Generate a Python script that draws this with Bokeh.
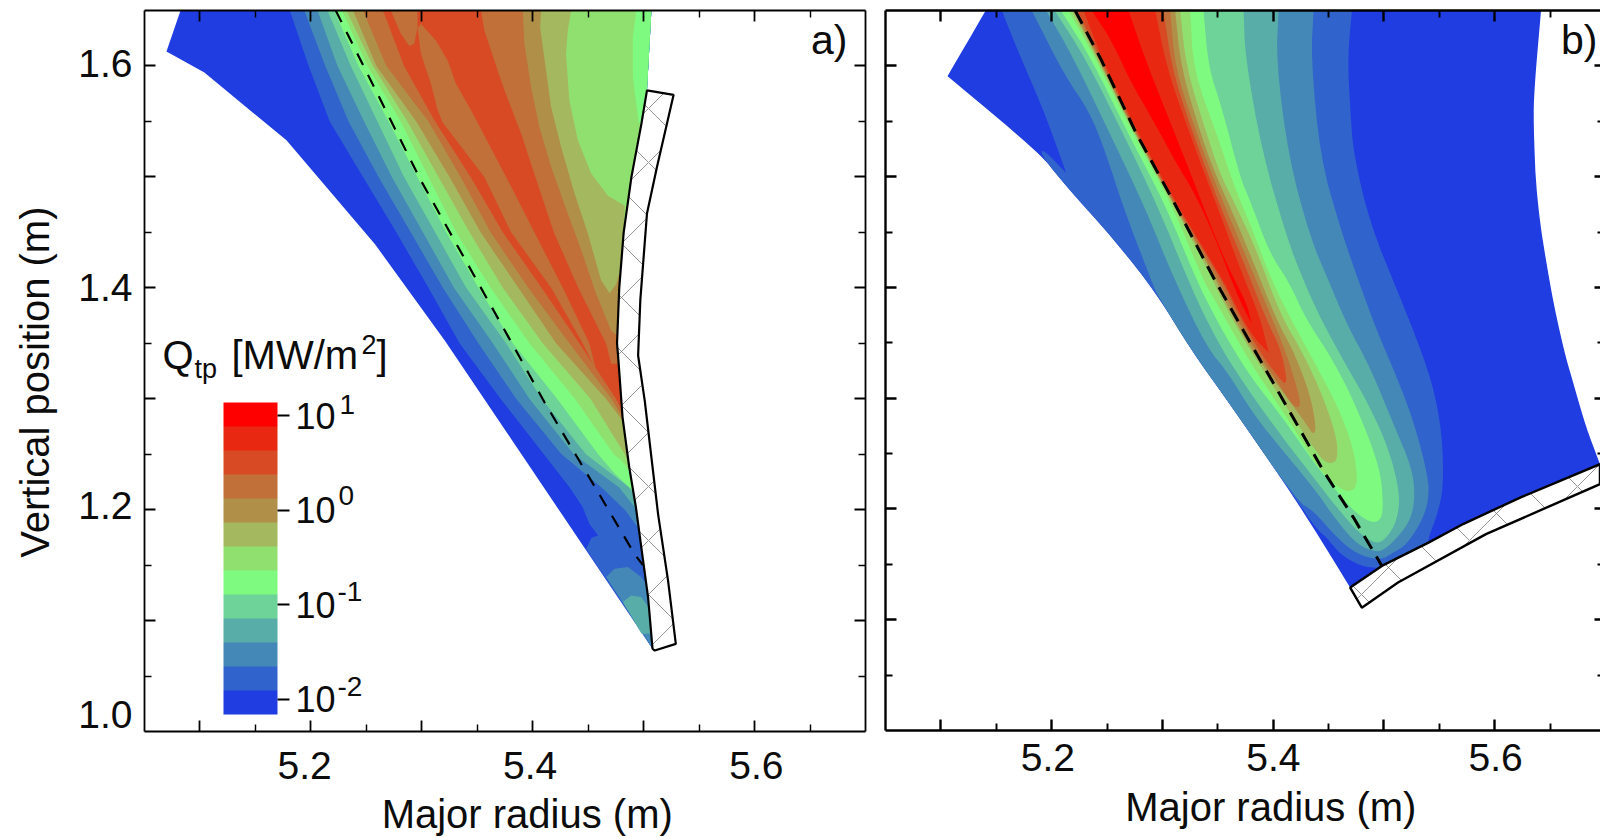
from bokeh.plotting import figure
from bokeh.layouts import row
from bokeh.embed import file_html
from bokeh.resources import INLINE
from bokeh.models import (Range1d, LinearAxis, FixedTicker, CustomJSTickFormatter,
                          Label, ColorBar, LinearColorMapper)

FONT = "Liberation Sans"
NBSP = "\u00a0"
LEVEL_COLORS = ["#1f3de0", "#3163cc", "#4488b8", "#58ada8", "#6dd398", "#7ffa80", "#90e070",
                "#a4b860", "#b09048", "#c07038", "#d84a24", "#e82810", "#ff0000"]
COLORBAR_TICKS = [-2, -1, 0, 1]
COLORBAR_EXPONENTS = ["-2", "-1", "0", "1"]
X_MAJOR = [5.1, 5.2, 5.3, 5.4, 5.5, 5.6]
X_MINOR = [5.15, 5.25, 5.35, 5.45, 5.55, 5.65]
Y_MAJOR = [1.1, 1.2, 1.3, 1.4, 1.5, 1.6]
Y_MINOR = [1.05, 1.15, 1.25, 1.35, 1.45, 1.55]

# ---------- panel a) : contour tables read at fixed heights ----------
A_Z = [1.65, 1.60, 1.55, 1.50, 1.45, 1.40, 1.35, 1.30, 1.25]
A_L1 = [5.181, 5.198, 5.217, 5.247, 5.277, 5.306, 5.334, 5.371, 5.410]
A_L2 = [5.194, 5.213, 5.234, 5.261, 5.290, 5.319, 5.351, 5.385, 5.426]
A_L3 = [5.206, 5.224, 5.248, 5.273, 5.301, 5.329, 5.364, 5.397, 5.437]
A_L4 = [5.215, 5.236, 5.260, 5.284, 5.312, 5.340, 5.376, 5.408, 5.448]
A_L5 = [5.221, 5.243, 5.270, 5.296, 5.322, 5.351, 5.382, 5.422, 5.459]
A_L6 = [5.228, 5.251, 5.281, 5.306, 5.331, 5.362, 5.397, 5.438, 5.473]
A_L7 = [5.232, 5.256, 5.287, 5.315, 5.343, 5.373, 5.409, 5.452, 5.483]
A_L8 = [5.238, 5.259, 5.295, 5.325, 5.353, 5.387, 5.421, 5.466]
A_L9 = [5.247, 5.268, 5.306, 5.335, 5.362, 5.396, 5.433, 5.471]
A_L10 = [5.265, 5.284, 5.312, 5.344, 5.373, 5.408, 5.442, 5.475]

A_EDGE = [(5.0825, 1.65), (5.0698, 1.613), (5.104, 1.594), (5.178, 1.533), (5.258, 1.439),
          (5.321, 1.352), (5.508, 1.0746)]
A_WALL_IN = [(5.507, 1.65), (5.503, 1.578), (5.498, 1.548), (5.489, 1.50), (5.482, 1.45),
             (5.478, 1.40), (5.476, 1.35), (5.477, 1.338), (5.481, 1.283), (5.487, 1.2384),
             (5.493, 1.2023), (5.4995, 1.154), (5.504, 1.121), (5.508, 1.0746)]
A_WALL_OUT = [(5.503, 1.578), (5.527, 1.574), (5.512, 1.509), (5.503, 1.467), (5.497, 1.389),
              (5.495, 1.339), (5.501, 1.298), (5.513, 1.196), (5.522, 1.136), (5.529, 1.079),
              (5.510, 1.073)]
A_L1_END = [(5.433, 1.2204), (5.445, 1.2023), (5.451, 1.1873), (5.459, 1.1768), (5.453, 1.1747),
            (5.448, 1.1647), (5.508, 1.0746)]
A_L2_END = [(5.462, 1.22), (5.483, 1.2), (5.497, 1.1813)]
A_L3_END = [(5.478, 1.22), (5.493, 1.2008)]
A_L4_END = [(5.487, 1.22), (5.491, 1.2143)]
A_L5_END = [(5.474, 1.2324), (5.490, 1.2174)]
A_L6_END = [(5.480, 1.2444), (5.489, 1.2324)]
A_L7_END = [(5.487, 1.2399)]
A_L8_END = [(5.482, 1.279)]
A_L9_END = [(5.481, 1.283)]
A_L10_END = [(5.4798, 1.291)]
A_R6 = [(5.4955, 1.5493), (5.4903, 1.59), (5.4903, 1.626), (5.4933, 1.65)]
A_R7 = [(5.483, 1.474), (5.4678, 1.483), (5.4527, 1.503), (5.4407, 1.533), (5.433, 1.569),
        (5.430, 1.611), (5.4316, 1.632), (5.4347, 1.65)]
A_R8 = [(5.4777, 1.4125), (5.4753, 1.4035), (5.4693, 1.395), (5.4617, 1.4065), (5.4497, 1.449),
        (5.4377, 1.485), (5.4256, 1.527), (5.4166, 1.563), (5.412, 1.596), (5.4067, 1.635),
        (5.4076, 1.65)]
A_R9 = [(5.4762, 1.357), (5.4708, 1.361), (5.4572, 1.3945), (5.4437, 1.434), (5.4316, 1.467),
        (5.4166, 1.509), (5.406, 1.545), (5.3985, 1.581), (5.3925, 1.62), (5.391, 1.65)]
A_R10 = [(5.4767, 1.3316), (5.4707, 1.3316), (5.4692, 1.3376), (5.466, 1.35), (5.441, 1.40),
         (5.419, 1.45), (5.4015, 1.5027), (5.3895, 1.539), (5.3745, 1.578), (5.3684, 1.596),
         (5.3564, 1.632), (5.3534, 1.65)]
A_WEDGE = [(5.2992, 1.638), (5.3127, 1.623), (5.3233, 1.605), (5.3308, 1.584), (5.3444, 1.56),
           (5.376, 1.50), (5.4015, 1.45), (5.4271, 1.40), (5.451, 1.35), (5.4572, 1.3256),
           (5.445, 1.35), (5.4166, 1.40), (5.3805, 1.45), (5.3564, 1.50), (5.3188, 1.549),
           (5.3143, 1.56), (5.3082, 1.584), (5.2992, 1.611), (5.2962, 1.6335)]
A_LOBE = [(5.272, 1.65), (5.2811, 1.629), (5.2887, 1.618), (5.2932, 1.62), (5.2962, 1.635),
          (5.2962, 1.65)]
A_TIP2 = [(5.4662, 1.1392), (5.4737, 1.1467), (5.4858, 1.1482), (5.4978, 1.1392), (5.5023, 1.1332),
          (5.504, 1.121), (5.508, 1.0746)]
A_TIP3 = [(5.4813, 1.1167), (5.4888, 1.1227), (5.4978, 1.1212), (5.5053, 1.1106), (5.5077, 1.0881),
          (5.4981, 1.0881)]
A_DASH_R = [5.2224, 5.2992, 5.3835, 5.4105, 5.4587, 5.4918, 5.4993]
A_DASH_Z = [1.65, 1.4967, 1.346, 1.297, 1.216, 1.16, 1.15]

# ---------- panel b) : contours from the top edge, round the foot, back to the top edge ----------
# a point listed twice is a sharp corner
B_BASE = [(5.1405, 1.65), (5.106, 1.5907), (5.106, 1.5907), (5.190, 1.5205), (5.2077, 1.4975), (5.2589, 1.4403),
          (5.295, 1.394), (5.3266, 1.3425), (5.361, 1.2945), (5.4214, 1.2072), (5.4695, 1.129), (5.4695, 1.129),
          (5.4981, 1.1486), (5.5402, 1.1696), (5.5719, 1.1866), (5.623, 1.2103), (5.695, 1.2404), (5.695, 1.2404),
          (5.682, 1.275), (5.672, 1.31), (5.6625, 1.3425), (5.6502, 1.3995),
          (5.6378, 1.478), (5.6349, 1.5484), (5.6357, 1.5795), (5.6418, 1.65)]
B_L1 = [(5.155, 1.65), (5.1695, 1.6135), (5.1902, 1.5656), (5.1985, 1.544), (5.2131, 1.5034), (5.2131, 1.5034),
        (5.1923, 1.525), (5.190, 1.5205), (5.2077, 1.4975), (5.2589, 1.4403), (5.295, 1.394),
        (5.3266, 1.3425), (5.361, 1.2945), (5.4214, 1.2072), (5.4394, 1.1817), (5.4484, 1.1741),
        (5.4605, 1.1591), (5.4785, 1.1485), (5.4966, 1.1464), (5.4981, 1.1486), (5.5402, 1.1696),
        (5.5402, 1.1741), (5.5493, 1.1982), (5.5538, 1.2223), (5.5523, 1.2704), (5.5433, 1.3156),
        (5.5267, 1.3608), (5.5147, 1.3906), (5.4876, 1.4569), (5.4726, 1.5201), (5.4696, 1.5592),
        (5.4672, 1.6074), (5.4711, 1.65)]
B_L2 = [(5.182, 1.65), (5.211, 1.5926), (5.2338, 1.5593), (5.2483, 1.5232), (5.2648, 1.4717),
        (5.2897, 1.407), (5.2897, 1.407), (5.295, 1.394), (5.3266, 1.3425), (5.361, 1.2945), (5.4214, 1.2072),
        (5.4364, 1.1982), (5.4575, 1.1741), (5.4755, 1.1591), (5.4966, 1.1537), (5.5086, 1.1606),
        (5.5207, 1.1681), (5.5342, 1.1892), (5.5402, 1.2072), (5.5402, 1.2283), (5.5267, 1.2795),
        (5.5117, 1.3186), (5.4936, 1.3608), (5.477, 1.4059), (5.4605, 1.4538), (5.4425, 1.5171),
        (5.4341, 1.6074), (5.4365, 1.65)]
B_L3 = [(5.195, 1.65), (5.2197, 1.6074), (5.2529, 1.5381), (5.283, 1.4749), (5.31, 1.4087),
        (5.3401, 1.3457), (5.3581, 1.3246), (5.3822, 1.2855), (5.4063, 1.2554), (5.4364, 1.2193),
        (5.4575, 1.1892), (5.4755, 1.1681), (5.4936, 1.1606), (5.5026, 1.1651), (5.5117, 1.1741),
        (5.5237, 1.1892), (5.5282, 1.2103), (5.5252, 1.2373), (5.5086, 1.2765), (5.4876, 1.3276),
        (5.4665, 1.3668), (5.45, 1.4059), (5.4335, 1.4448), (5.4139, 1.5171), (5.4027, 1.6044),
        (5.4049, 1.65)]
B_L4 = [(5.2026, 1.65), (5.2303, 1.6074), (5.2649, 1.5381), (5.295, 1.4749), (5.3235, 1.4059),
        (5.3401, 1.3698), (5.3581, 1.3367), (5.3822, 1.3006), (5.4063, 1.2674), (5.4364, 1.2283),
        (5.4575, 1.2012), (5.4785, 1.1771), (5.4936, 1.1681), (5.5026, 1.1741), (5.5117, 1.1892),
        (5.5147, 1.2133), (5.5041, 1.2554), (5.4846, 1.2975), (5.4635, 1.3337), (5.4439, 1.3698),
        (5.4274, 1.4059), (5.4124, 1.4448), (5.3898, 1.523), (5.3748, 1.6074), (5.3733, 1.65)]
B_L5 = [(5.2083, 1.65), (5.2354, 1.6074), (5.2694, 1.5381), (5.3025, 1.4749), (5.3311, 1.4059),
        (5.3446, 1.3788), (5.3612, 1.3487), (5.3822, 1.3156), (5.4063, 1.2855), (5.4334, 1.2464),
        (5.4545, 1.2193), (5.4725, 1.1982), (5.4876, 1.1877), (5.4966, 1.1892), (5.4996, 1.2012),
        (5.4966, 1.2373), (5.4755, 1.2915), (5.4545, 1.3337), (5.4304, 1.3698), (5.4138, 1.4059),
        (5.3973, 1.4298), (5.3793, 1.4779), (5.3702, 1.499), (5.3537, 1.5622), (5.3416, 1.5983),
        (5.3371, 1.65)]
B_L6 = [(5.2152, 1.65), (5.2393, 1.6074), (5.2739, 1.5381), (5.3085, 1.4749), (5.3371, 1.4059),
        (5.3461, 1.3909), (5.3612, 1.3638), (5.3822, 1.3276), (5.4063, 1.2915), (5.4259, 1.2614),
        (5.4364, 1.2434), (5.4484, 1.2283), (5.4635, 1.2163), (5.4725, 1.2163), (5.4764, 1.2253),
        (5.4725, 1.2554), (5.4575, 1.2945), (5.4364, 1.3337), (5.4138, 1.3758), (5.3988, 1.4059),
        (5.3793, 1.4569), (5.3642, 1.493), (5.3492, 1.5381), (5.3281, 1.5953), (5.3251, 1.65)]
B_L7 = [(5.2182, 1.65), (5.2408, 1.6074), (5.2751, 1.5381), (5.3098, 1.4749), (5.3461, 1.4059),
        (5.3497, 1.3969), (5.3687, 1.3608), (5.3913, 1.3246), (5.4198, 1.2795), (5.4364, 1.2554),
        (5.4454, 1.2433), (5.453, 1.2409), (5.4581, 1.2449), (5.4575, 1.2644), (5.4454, 1.3005),
        (5.4274, 1.3397), (5.4063, 1.3758), (5.3853, 1.4328), (5.3672, 1.4719), (5.3522, 1.502),
        (5.3401, 1.5381), (5.3215, 1.5983), (5.3161, 1.65)]
B_L8 = [(5.2197, 1.65), (5.2417, 1.6074), (5.2757, 1.5381), (5.3103, 1.4749), (5.3491, 1.4059),
        (5.3521, 1.3969), (5.3612, 1.3788), (5.3792, 1.3457), (5.4033, 1.3126), (5.4214, 1.2885),
        (5.4319, 1.2735), (5.4364, 1.2668), (5.4388, 1.2735), (5.4334, 1.3036), (5.4183, 1.3427),
        (5.4033, 1.3698), (5.3793, 1.4298), (5.3627, 1.4689), (5.3492, 1.499), (5.3356, 1.5351),
        (5.3167, 1.5983), (5.3115, 1.65)]
B_L9 = [(5.2215, 1.65), (5.2426, 1.6074), (5.2763, 1.5381), (5.3109, 1.4749), (5.3506, 1.4059),
        (5.3581, 1.3909), (5.3762, 1.3547), (5.4033, 1.3156), (5.4168, 1.2945), (5.4229, 1.2909),
        (5.425, 1.2975), (5.4123, 1.3397), (5.3973, 1.3758), (5.3748, 1.4298), (5.3582, 1.4689),
        (5.3447, 1.502), (5.3281, 1.5472), (5.3115, 1.5983), (5.307, 1.65)]
B_L10 = [(5.2234, 1.65), (5.2438, 1.6074), (5.2772, 1.5381), (5.3118, 1.4749), (5.3536, 1.4059),
         (5.3581, 1.3969), (5.3732, 1.3668), (5.3913, 1.3367), (5.4063, 1.3171), (5.4108, 1.3126),
         (5.4123, 1.3186), (5.4063, 1.3457), (5.3943, 1.3698), (5.3717, 1.4268), (5.3552, 1.4659),
         (5.3401, 1.505), (5.3236, 1.5502), (5.3085, 1.5983), (5.301, 1.65)]
B_L11 = [(5.2288, 1.65), (5.245, 1.6074), (5.2787, 1.5381), (5.313, 1.4749), (5.3551, 1.4059),
         (5.3612, 1.3939), (5.3732, 1.3698), (5.3852, 1.3517), (5.3928, 1.3442), (5.3958, 1.3412), (5.3958, 1.3412),
         (5.3882, 1.3728), (5.3687, 1.4207), (5.3522, 1.4659), (5.3371, 1.505), (5.3206, 1.5502),
         (5.304, 1.5983), (5.2935, 1.65)]
B_L12 = [(5.2363, 1.65), (5.2544, 1.6224), (5.2709, 1.5863), (5.292, 1.5502), (5.3131, 1.511),
         (5.3281, 1.487), (5.3477, 1.4448), (5.3672, 1.3937), (5.3807, 1.3668), (5.3807, 1.3668), (5.3762, 1.3848),
         (5.3657, 1.4059), (5.3582, 1.4207), (5.3432, 1.4569), (5.3281, 1.496), (5.3115, 1.5381),
         (5.2935, 1.5833), (5.283, 1.6104), (5.2694, 1.65)]
B_WALL_IN = [(5.4695, 1.129), (5.4981, 1.1486), (5.5402, 1.1696), (5.5719, 1.1866), (5.623, 1.2103),
             (5.695, 1.2404)]
B_WALL_OUT = [(5.695, 1.2224), (5.5921, 1.1773), (5.5127, 1.1336), (5.48, 1.1109)]
B_DASH_R = [5.2212, 5.2438, 5.2769, 5.3115, 5.3462, 5.3732, 5.3973, 5.4214, 5.4454, 5.4725, 5.4981]
B_DASH_Z = [1.65, 1.6074, 1.5381, 1.4749, 1.4087, 1.3608, 1.3186, 1.2765, 1.2343, 1.1922, 1.1486]

# ---------- tick label anchors (the original's labels sit a little off their ticks) ----------
A_XLABEL_POS = {5.1944: "5.2", 5.3976: "5.4", 5.6016: "5.6"}
B_XLABEL_POS = {5.1966: "5.2", 5.4002: "5.4", 5.6008: "5.6"}
A_YLABEL_POS = {1.0153: "1.0", 1.2038: "1.2", 1.4007: "1.4", 1.6022: "1.6"}


def rounded(pts, rounds=2):
    """corner-cutting of an open contour: it keeps the ends and rounds the drawn corners"""
    for _ in range(rounds):
        out = [pts[0]]
        for a, b in zip(pts[:-1], pts[1:]):
            out.append((0.75 * a[0] + 0.25 * b[0], 0.75 * a[1] + 0.25 * b[1]))
            out.append((0.25 * a[0] + 0.75 * b[0], 0.25 * a[1] + 0.75 * b[1]))
        out.append(pts[-1])
        pts = out
    return pts


def poly(p, pts, color):
    p.patch([q[0] for q in pts], [q[1] for q in pts], fill_color=color, line_color=None)


def wall_between(zlow, zhigh, wall):
    """wall points between two heights, bottom to top"""
    inner = [q for q in wall if zlow < q[1] < zhigh]
    return sorted(inner, key=lambda q: q[1])


def empty():
    return CustomJSTickFormatter(code="return ''")


def tick_axis(major, minor, width, major_len=11, minor_len=7, line=True):
    return LinearAxis(ticker=FixedTicker(ticks=major, minor_ticks=minor), formatter=empty(),
                      major_tick_in=major_len, major_tick_out=0, minor_tick_in=minor_len, minor_tick_out=0,
                      major_tick_line_width=width, minor_tick_line_width=width * 0.8,
                      major_tick_line_color="#000000", minor_tick_line_color="#000000",
                      axis_line_width=width, axis_line_color="#000000" if line else None,
                      major_label_text_font_size="0px", major_label_standoff=0)


def label_axis(positions, standoff, title, title_standoff):
    return LinearAxis(ticker=FixedTicker(ticks=list(positions.keys()), minor_ticks=[]),
                      major_label_overrides=positions, axis_line_color=None,
                      major_tick_line_color=None, minor_tick_line_color=None,
                      major_tick_in=0, major_tick_out=0, minor_tick_in=0, minor_tick_out=0,
                      major_label_standoff=standoff, major_label_text_font=FONT,
                      major_label_text_font_size="39px", major_label_text_color="#0c0c0c",
                      axis_label=title, axis_label_text_font=FONT, axis_label_text_font_size="40px",
                      axis_label_text_font_style="normal", axis_label_text_color="#0c0c0c",
                      axis_label_standoff=title_standoff)


# ===================== panel a =====================
pa = figure(frame_width=721, frame_height=721, x_range=Range1d(5.05, 5.70), y_range=Range1d(1.0, 1.65),
            x_axis_type=None, y_axis_type=None, toolbar_location=None, output_backend="svg",
            min_border_left=144, min_border_right=10, min_border_top=10, min_border_bottom=100,
            outline_line_color=None, background_fill_color=None, border_fill_color=None)
pa.grid.visible = False
AX = lambda X: 5.05 + (X - 144) / 721 * 0.65
AY = lambda Y: 1.0 + (731 - Y) / 721 * 0.65


def annotate(p, fx, fy, X, Y, text, size, align="left"):
    # Y is the wanted baseline; the drawn baseline falls about 0.42 em below the anchor
    p.add_layout(Label(x=fx(X), y=fy(Y - 0.42 * size), text=text, text_font=FONT, text_font_size=f"{size}px",
                       text_align=align, text_baseline="alphabetic", text_color="#0c0c0c"))


poly(pa, A_EDGE + wall_between(1.0746, 1.65, A_WALL_IN) + [(5.507, 1.65)], LEVEL_COLORS[0])
A_LEFT = [A_L1, A_L2, A_L3, A_L4, A_L5]
A_ENDS = [A_L1_END, A_L2_END, A_L3_END, A_L4_END, A_L5_END]
for i, (L, end) in enumerate(zip(A_LEFT, A_ENDS)):
    pts = list(zip(L, A_Z)) + end + wall_between(end[-1][1], 1.65, A_WALL_IN) + [(5.507, 1.65)]
    poly(pa, pts, LEVEL_COLORS[i + 1])
poly(pa, A_TIP2, LEVEL_COLORS[2])
poly(pa, A_TIP3, LEVEL_COLORS[3])
for lvl, L, end, right in [(6, A_L6, A_L6_END, A_R6), (7, A_L7, A_L7_END, A_R7), (8, A_L8, A_L8_END, A_R8),
                           (9, A_L9, A_L9_END, A_R9), (10, A_L10, A_L10_END, A_R10)]:
    pts = list(zip(L, A_Z)) + end + wall_between(end[-1][1], right[0][1], A_WALL_IN) + right
    poly(pa, pts, LEVEL_COLORS[lvl])
poly(pa, A_WEDGE, LEVEL_COLORS[9])
poly(pa, A_LOBE, LEVEL_COLORS[9])

wall_a = [q for q in A_WALL_IN if q[1] <= 1.578] + A_WALL_OUT[::-1]
pa.patch([q[0] for q in wall_a], [q[1] for q in wall_a], fill_color="#ffffff", line_color="#000000",
         line_width=2.2, hatch_pattern="diagonal_cross", hatch_scale=54, hatch_color="#777777", hatch_weight=0.8)
pa.line(A_DASH_R, A_DASH_Z, line_color="#000000", line_width=2.2, line_dash="13 11")

pa.add_layout(tick_axis(X_MAJOR, X_MINOR, 1.8), "below")
pa.add_layout(label_axis(A_XLABEL_POS, 20, NBSP * 4 + "Major radius (m)", 10), "below")
pa.add_layout(tick_axis(Y_MAJOR, Y_MINOR, 1.8), "left")
pa.add_layout(label_axis(A_YLABEL_POS, 12, "Vertical position (m)" + NBSP * 2, 18), "left")
pa.add_layout(tick_axis(X_MAJOR, X_MINOR, 1.8), "above")
pa.add_layout(tick_axis(Y_MAJOR, Y_MINOR, 1.8), "right")

annotate(pa, AX, AY, 847, 57, "a)", 41, "right")

annotate(pa, AX, AY, 162, 371, "Q", 40)
annotate(pa, AX, AY, 194, 380, "tp", 27)
annotate(pa, AX, AY, 231, 371, "[MW/m", 40)
annotate(pa, AX, AY, 361, 355, "2", 27)
annotate(pa, AX, AY, 376, 371, "]", 40)

mapper = LinearColorMapper(palette=LEVEL_COLORS, low=-2.16, high=1.14)
cbar = ColorBar(color_mapper=mapper, ticker=FixedTicker(ticks=COLORBAR_TICKS),
                major_label_overrides={t: "10" for t in COLORBAR_TICKS},
                location=(79, 17), width=54, height=312, padding=0, margin=0,
                major_tick_in=0, major_tick_out=12, major_tick_line_color="#000000",
                major_tick_line_width=2, minor_tick_line_color=None, bar_line_color=None,
                border_line_color=None, background_fill_color=None, label_standoff=6,
                major_label_text_font=FONT, major_label_text_font_size="36px",
                major_label_text_color="#0c0c0c")
pa.add_layout(cbar, "center")
for ex, xp, yp in zip(COLORBAR_EXPONENTS, [337, 337, 338, 339], [698, 603, 507, 416]):
    annotate(pa, AX, AY, xp, yp, ex, 28)

# ===================== panel b =====================
pb = figure(frame_width=715, frame_height=720, x_range=Range1d(5.05, 5.05 + 715 * 0.65 / 720),
            y_range=Range1d(1.0, 1.65), x_axis_type=None, y_axis_type=None, toolbar_location=None,
            output_backend="svg", min_border_left=10, min_border_right=0, min_border_top=10,
            min_border_bottom=101, outline_line_color=None, background_fill_color=None, border_fill_color=None)
pb.grid.visible = False
BX = lambda X: 5.05 + (X - 885) / 720 * 0.65
BY = lambda Y: 1.0 + (730 - Y) / 720 * 0.65

poly(pb, rounded(B_BASE), LEVEL_COLORS[0])
for lvl, pts in enumerate([B_L1, B_L2, B_L3, B_L4, B_L5, B_L6, B_L7, B_L8, B_L9, B_L10, B_L11, B_L12], start=1):
    poly(pb, rounded(pts), LEVEL_COLORS[lvl])

wall_b = B_WALL_IN + B_WALL_OUT
pb.patch([q[0] for q in wall_b], [q[1] for q in wall_b], fill_color="#ffffff", line_color="#000000",
         line_width=2.4, hatch_pattern="diagonal_cross", hatch_scale=54, hatch_color="#777777", hatch_weight=0.8)
pb.line(B_DASH_R, B_DASH_Z, line_color="#000000", line_width=3, line_dash="15 9")

pb.add_layout(tick_axis(X_MAJOR, X_MINOR, 2.4), "below")
pb.add_layout(label_axis(B_XLABEL_POS, 13, NBSP * 5 + "Major radius (m)", 11), "below")
pb.add_layout(tick_axis(Y_MAJOR, Y_MINOR, 2.4), "left")
pb.add_layout(tick_axis(X_MAJOR, X_MINOR, 2.4), "above")
pb.add_layout(tick_axis(Y_MAJOR, Y_MINOR, 2.4, major_len=6, minor_len=3, line=False), "right")

annotate(pb, BX, BY, 1597, 57, "b)", 41, "right")

page = row(pa, pb)
open("out.html", "w").write(file_html(page, INLINE))
